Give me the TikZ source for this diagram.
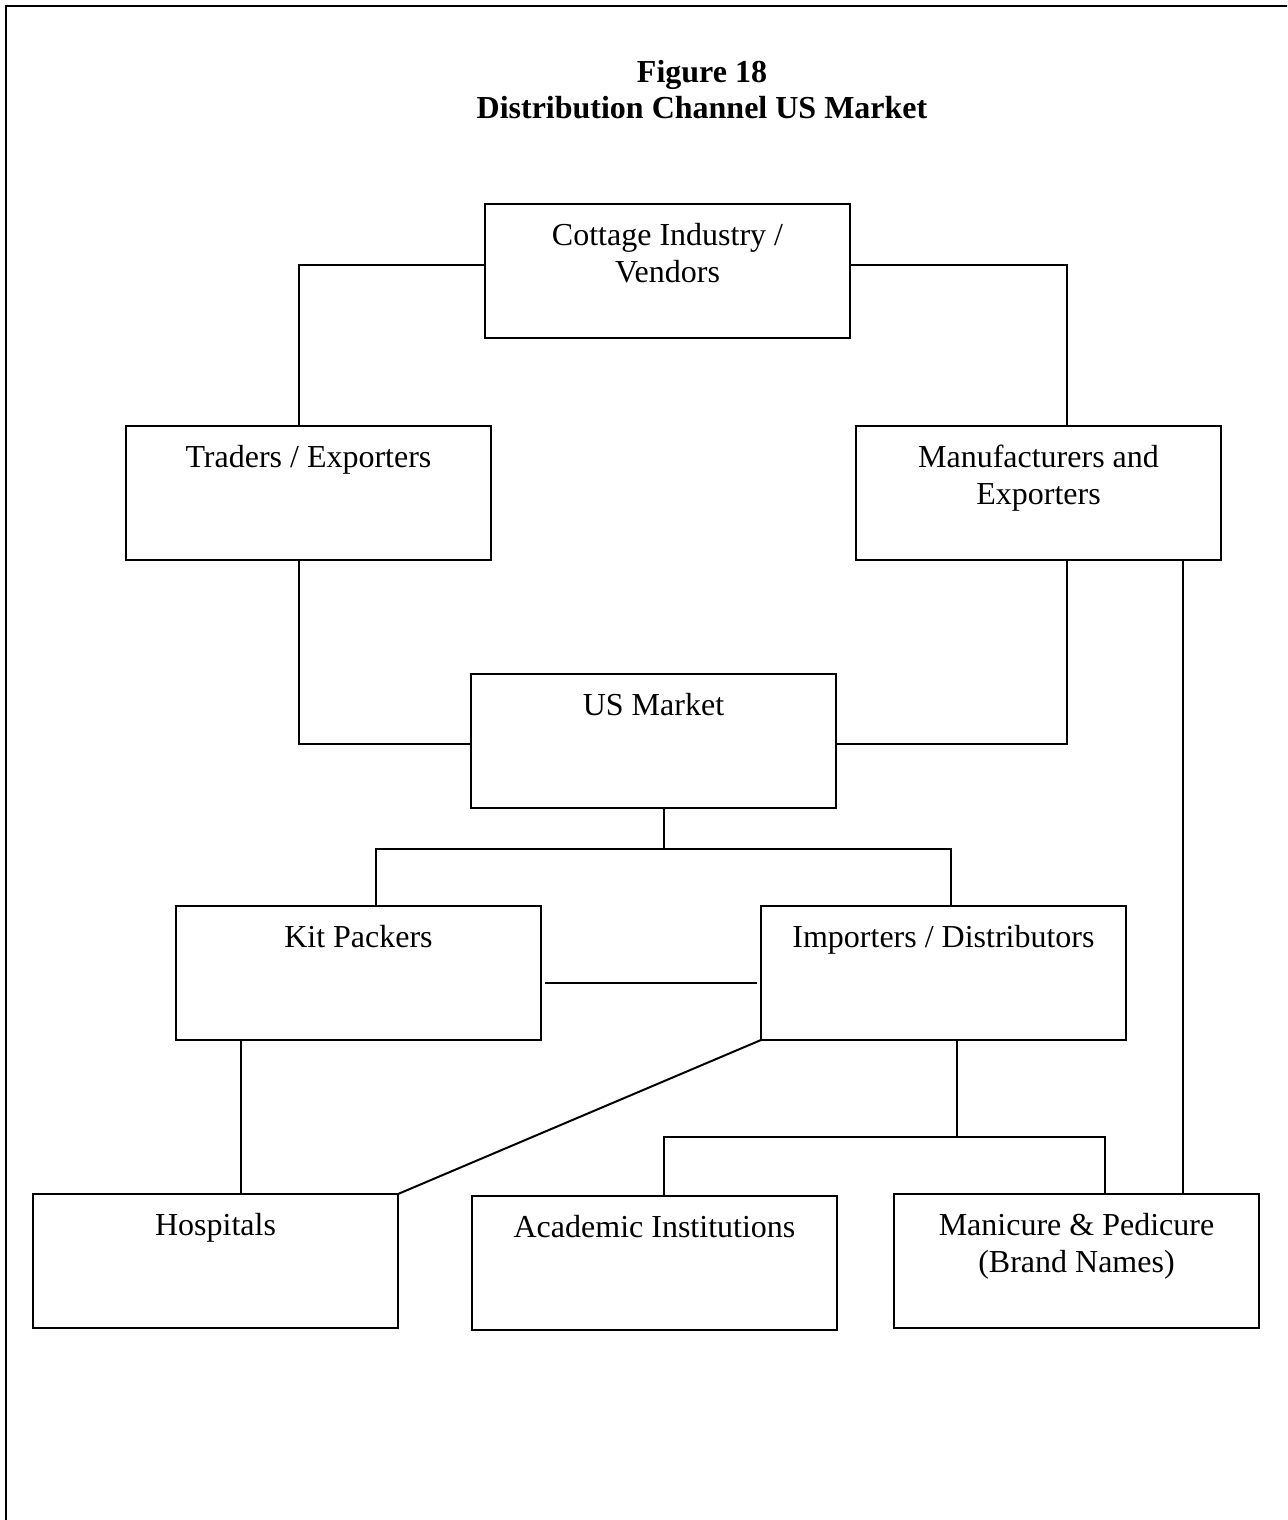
\documentclass[tikz,border=0pt]{standalone}
\usepackage{fontspec}
\setmainfont{Liberation Serif}
\tikzset{
  box/.style={draw, line width=0.8pt, inner sep=0pt, outer sep=0pt, font=\fontsize{12.8}{15}\selectfont},
  conn/.style={line width=0.8pt},
  titlestyle/.style={inner sep=0pt, anchor=north, font=\fontsize{12.8}{14.2}\selectfont\bfseries},
}
\newcommand\boxtxt[1]{\vbox to 53.6pt{\hsize=146pt\parskip=0pt\centering\baselineskip=15pt\rule{0pt}{16.4pt}#1\par\vfil}}
\begin{document}
\begin{tikzpicture}[x=0.4pt,y=-0.4pt]
\useasboundingbox (0,0) rectangle (1287,1520);
% outer frame
\begin{scope}
\clip (0,0) rectangle (1287,1520);
\draw[conn] (6,1530) -- (6,6) -- (1297,6);
\end{scope}
% title
\node[titlestyle] (title) at (702,41) {\vbox{\hsize=280pt\parskip=0pt\centering\baselineskip=14.2pt\rule{0pt}{16.4pt}Figure 18\\Distribution Channel US Market\par}};
% boxes
\node[box] (cot) at (667.5,271) {\boxtxt{Cottage Industry /\\Vendors}};
\node[box] (trd) at (308.5,493) {\boxtxt{Traders / Exporters}};
\node[box] (man) at (1038.5,493) {\boxtxt{Manufacturers and\\Exporters}};
\node[box] (usm) at (653.5,741) {\boxtxt{US Market}};
\node[box] (kit) at (358.5,973) {\boxtxt{Kit Packers}};
\node[box] (imp) at (943.5,973) {\boxtxt{Importers / Distributors}};
\node[box] (hos) at (215.5,1261) {\boxtxt{Hospitals}};
\node[box] (aca) at (654.5,1263) {\boxtxt{Academic Institutions}};
\node[box] (mpb) at (1076.5,1261) {\boxtxt{Manicure \& Pedicure\\(Brand Names)}};
% connector corner points
\coordinate (a1) at (299,265);
\coordinate (a2) at (1067,265);
\coordinate (b1) at (299,744);
\coordinate (b2) at (1067,744);
\coordinate (j1) at (664,849);
\coordinate (j1l) at (376,849);
\coordinate (j1r) at (951,849);
\coordinate (k) at (0,983);
\coordinate (c7) at (241,1100);
\coordinate (j2) at (957,1137);
\coordinate (j2l) at (664,1137);
\coordinate (j2r) at (1105,1137);
\coordinate (c10) at (1183,1100);
% connectors
\draw[conn] (cot.west |- a1) -- (a1) -- (trd.north -| a1);
\draw[conn] (cot.east |- a2) -- (a2) -- (man.north -| a2);
\draw[conn] (trd.south -| b1) -- (b1) -- (usm.west |- b1);
\draw[conn] (man.south -| b2) -- (b2) -- (usm.east |- b2);
\draw[conn] (usm.south -| j1) -- (j1);
\draw[conn] (kit.north -| j1l) -- (j1l) -- (j1r) -- (imp.north -| j1r);
\draw[conn, shorten <=1.6pt, shorten >=1.6pt] (kit.east |- k) -- (imp.west |- k);
\draw[conn] (kit.south -| c7) -- (hos.north -| c7);
\draw[conn] (imp.south west) -- (hos.north east);
\draw[conn] (imp.south -| j2) -- (j2);
\draw[conn] (aca.north -| j2l) -- (j2l) -- (j2r) -- (mpb.north -| j2r);
\draw[conn] (man.south -| c10) -- (mpb.north -| c10);
\end{tikzpicture}
\end{document}
